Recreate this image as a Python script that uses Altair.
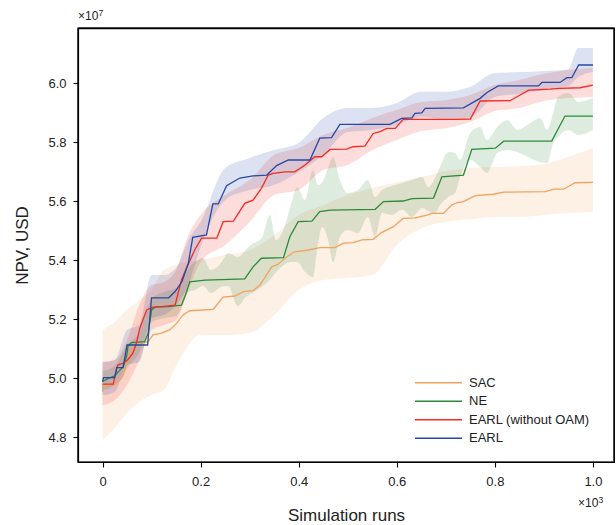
import altair as alt
import pandas as pd

FONT = "Liberation Sans"

names = ["SAC", "NE", "EARL (without OAM)", "EARL"]
colors = ["#f0a35e", "#2a8a3a", "#f52a20", "#2548a8"]

# ---- mean curves (x in 10^3 runs, y in 10^7 USD) ----
sac_x = [0, 0.001, 0.022, 0.039, 0.046, 0.052, 0.062, 0.080, 0.093, 0.103,
         0.120, 0.137, 0.151, 0.164, 0.178, 0.226, 0.246, 0.270, 0.287, 0.307,
         0.321, 0.345, 0.358, 0.376, 0.392, 0.420, 0.443, 0.474, 0.491, 0.511,
         0.529, 0.552, 0.569, 0.593, 0.613, 0.637, 0.664, 0.671, 0.695, 0.712,
         0.722, 0.736, 0.760, 0.797, 0.818, 0.903, 0.920, 0.940, 0.964, 1.000]
sac_y = [4.954, 4.976, 4.976, 4.999, 5.027, 5.061, 5.106, 5.118, 5.123, 5.146,
         5.152, 5.163, 5.185, 5.214, 5.228, 5.233, 5.274, 5.278, 5.293, 5.296,
         5.315, 5.377, 5.386, 5.411, 5.428, 5.434, 5.442, 5.442, 5.457, 5.459,
         5.468, 5.470, 5.493, 5.513, 5.541, 5.543, 5.553, 5.558, 5.558, 5.586,
         5.594, 5.598, 5.618, 5.623, 5.630, 5.632, 5.640, 5.640, 5.662, 5.663]

ne_x = [0, 0.012, 0.025, 0.032, 0.042, 0.049, 0.052, 0.059, 0.086, 0.093,
        0.100, 0.107, 0.134, 0.161, 0.168, 0.178, 0.209, 0.290, 0.307, 0.324,
        0.369, 0.382, 0.399, 0.427, 0.443, 0.464, 0.556, 0.573, 0.613, 0.631,
        0.675, 0.692, 0.736, 0.753, 0.801, 0.818, 0.916, 0.943, 1.000]
ne_y = [4.988, 4.999, 5.007, 5.021, 5.038, 5.072, 5.108, 5.120, 5.123, 5.152,
        5.231, 5.240, 5.242, 5.247, 5.276, 5.326, 5.332, 5.336, 5.377, 5.406,
        5.408, 5.479, 5.530, 5.532, 5.564, 5.569, 5.572, 5.598, 5.600, 5.608,
        5.610, 5.682, 5.688, 5.775, 5.779, 5.803, 5.803, 5.888, 5.888]

earl_wo_x = [0, 0.022, 0.024, 0.031, 0.042, 0.052, 0.062, 0.069, 0.076, 0.090,
             0.103, 0.120, 0.148, 0.154, 0.161, 0.171, 0.188, 0.202, 0.233, 0.246,
             0.267, 0.290, 0.307, 0.324, 0.338, 0.348, 0.372, 0.392, 0.413, 0.433,
             0.447, 0.464, 0.498, 0.511, 0.535, 0.552, 0.566, 0.580, 0.597, 0.613,
             0.719, 0.750, 0.770, 0.831, 0.869, 0.913, 0.933, 0.974, 1.000]
earl_wo_y = [4.979, 4.979, 4.999, 5.044, 5.050, 5.063, 5.084, 5.118, 5.168, 5.231,
             5.240, 5.242, 5.247, 5.287, 5.332, 5.372, 5.434, 5.474, 5.474, 5.530,
             5.532, 5.592, 5.603, 5.643, 5.688, 5.694, 5.699, 5.699, 5.722, 5.750,
             5.750, 5.775, 5.776, 5.784, 5.786, 5.829, 5.835, 5.846, 5.846, 5.877,
             5.877, 5.878, 5.939, 5.940, 5.976, 5.979, 5.982, 5.984, 5.993]

earl_x = [0, 0.002, 0.025, 0.029, 0.042, 0.050, 0.092, 0.100, 0.135, 0.148,
          0.162, 0.175, 0.184, 0.212, 0.225, 0.236, 0.253, 0.280, 0.307, 0.335,
          0.355, 0.379, 0.423, 0.443, 0.467, 0.484, 0.586, 0.610, 0.631, 0.637,
          0.651, 0.658, 0.736, 0.770, 0.784, 0.807, 0.889, 0.896, 0.933, 0.947,
          0.957, 0.971, 1.000]
earl_y = [4.988, 5.001, 5.001, 5.035, 5.035, 5.112, 5.112, 5.272, 5.272, 5.293,
          5.327, 5.389, 5.477, 5.485, 5.590, 5.590, 5.652, 5.678, 5.685, 5.688,
          5.720, 5.739, 5.739, 5.813, 5.815, 5.860, 5.860, 5.880, 5.882, 5.897,
          5.899, 5.914, 5.916, 5.948, 5.968, 5.990, 5.990, 6.002, 6.002, 6.018,
          6.018, 6.061, 6.061]

# ---- shaded bands ----
band_x = [0, 0.025, 0.05, 0.075, 0.1, 0.125, 0.15, 0.175, 0.2, 0.25, 0.3, 0.35,
          0.4, 0.45, 0.5, 0.55, 0.6, 0.65, 0.7, 0.75, 0.8, 0.85, 0.9, 0.95, 1.0]
sac_hi = [5.163, 5.190, 5.231, 5.264, 5.298, 5.366, 5.383, 5.393, 5.400, 5.417,
          5.434, 5.485, 5.553, 5.586, 5.620, 5.644, 5.664, 5.681, 5.702, 5.712,
          5.715, 5.719, 5.725, 5.749, 5.780]
sac_lo = [4.790, 4.830, 4.881, 4.919, 4.942, 4.959, 5.041, 5.112, 5.146, 5.146,
          5.153, 5.214, 5.298, 5.332, 5.339, 5.349, 5.451, 5.508, 5.529, 5.539,
          5.546, 5.546, 5.553, 5.559, 5.563]
earl_wo_hi = [5.054, 5.061, 5.129, 5.247, 5.315, 5.325, 5.366, 5.485, 5.553, 5.620,
              5.671, 5.756, 5.780, 5.824, 5.848, 5.881, 5.909, 5.936, 5.942, 5.959,
              5.993, 6.010, 6.031, 6.044, 6.051]
earl_wo_lo = [4.908, 4.925, 4.976, 5.061, 5.163, 5.180, 5.197, 5.298, 5.393, 5.451,
              5.529, 5.620, 5.637, 5.705, 5.722, 5.773, 5.807, 5.837, 5.847, 5.868,
              5.905, 5.915, 5.939, 5.949, 5.953]

earl_band_x = [0, 0.025, 0.05, 0.075, 0.1, 0.125, 0.15, 0.175, 0.2, 0.25, 0.3, 0.35,
               0.4, 0.45, 0.5, 0.55, 0.6, 0.65, 0.7, 0.75, 0.8, 0.85, 0.9, 0.95, 0.97, 1.0]
earl_hi = [5.054, 5.061, 5.163, 5.180, 5.349, 5.349, 5.373, 5.468, 5.529, 5.712,
           5.746, 5.773, 5.797, 5.881, 5.915, 5.915, 5.932, 5.970, 5.970, 5.987,
           6.034, 6.037, 6.041, 6.047, 6.119, 6.119]
earl_lo = [4.942, 4.953, 5.044, 5.054, 5.203, 5.214, 5.247, 5.315, 5.444, 5.603,
           5.637, 5.654, 5.698, 5.756, 5.834, 5.841, 5.858, 5.885, 5.878, 5.885,
           5.953, 5.963, 5.976, 5.990, 6.020, 6.037]

ne_band_x = [0, 0.025, 0.050, 0.076, 0.101, 0.125, 0.150, 0.176, 0.188, 0.205,
             0.221, 0.243, 0.256, 0.276, 0.292, 0.305, 0.325, 0.341, 0.354, 0.370,
             0.384, 0.397, 0.413, 0.429, 0.439, 0.448, 0.460, 0.470, 0.484, 0.499,
             0.521, 0.541, 0.556, 0.570, 0.590, 0.611, 0.631, 0.652, 0.664, 0.678,
             0.688, 0.705, 0.719, 0.729, 0.750, 0.770, 0.784, 0.805, 0.825, 0.846,
             0.872, 0.892, 0.907, 0.919, 0.929, 0.950, 0.970, 1.000]
ne_hi = [5.024, 5.041, 5.112, 5.156, 5.271, 5.292, 5.305, 5.373, 5.393, 5.407,
         5.366, 5.393, 5.424, 5.410, 5.434, 5.454, 5.475, 5.553, 5.468, 5.508,
         5.586, 5.647, 5.603, 5.705, 5.654, 5.664, 5.712, 5.749, 5.671, 5.627,
         5.637, 5.671, 5.614, 5.637, 5.651, 5.661, 5.671, 5.681, 5.647, 5.678,
         5.715, 5.766, 5.763, 5.739, 5.831, 5.851, 5.807, 5.851, 5.875, 5.841,
         5.864, 5.881, 5.841, 5.898, 5.953, 5.966, 5.936, 5.949]
ne_lo = [4.959, 4.976, 5.034, 5.088, 5.190, 5.203, 5.210, 5.292, 5.298, 5.312,
         5.288, 5.309, 5.312, 5.244, 5.275, 5.288, 5.309, 5.332, 5.359, 5.383,
         5.393, 5.393, 5.359, 5.342, 5.451, 5.512, 5.468, 5.393, 5.478, 5.502,
         5.492, 5.546, 5.478, 5.559, 5.553, 5.570, 5.546, 5.576, 5.566, 5.559,
         5.586, 5.614, 5.627, 5.681, 5.739, 5.715, 5.695, 5.763, 5.773, 5.766,
         5.746, 5.732, 5.729, 5.797, 5.817, 5.841, 5.824, 5.841]

x_ticks = [0, 0.2, 0.4, 0.6, 0.8, 1.0]
y_ticks = [4.8, 5.0, 5.2, 5.4, 5.6, 5.8, 6.0]

series = [
    ("SAC", sac_x, sac_y, band_x, sac_lo, sac_hi),
    ("NE", ne_x, ne_y, ne_band_x, ne_lo, ne_hi),
    ("EARL (without OAM)", earl_wo_x, earl_wo_y, band_x, earl_wo_lo, earl_wo_hi),
    ("EARL", earl_x, earl_y, earl_band_x, earl_lo, earl_hi),
]

W, H = 536, 434

x_scale = alt.Scale(domain=[-0.05, 1.043], nice=False, zero=False)
y_scale = alt.Scale(domain=[4.7153, 6.1865], nice=False, zero=False)
color_scale = alt.Scale(domain=names, range=colors)

x_axis = alt.Axis(values=x_ticks, labelExpr="datum.value == 0 ? '0' : format(datum.value, '.1f')",
                  title="Simulation runs", grid=False, tickSize=5, labelPadding=8,
                  titlePadding=19)
y_axis = alt.Axis(values=y_ticks, format=".1f", title="NPV, USD", grid=False,
                  tickSize=5, labelPadding=7, titlePadding=16)
x_axis_top = alt.Axis(orient="top", labels=False, ticks=False, title="", grid=False,
                      domain=True, domainColor="black", domainWidth=1.3)

areas = []
lines = []
for name, lx, ly, bx, lo, hi in series:
    bdf = pd.DataFrame({"x": bx, "lo": lo, "hi": hi, "series": name})
    ldf = pd.DataFrame({"x": lx, "y": ly, "series": name})
    areas.append(
        alt.Chart(bdf).mark_area(opacity=0.16, interpolate="monotone").encode(
            x=alt.X("x:Q", scale=x_scale, axis=x_axis),
            y=alt.Y("lo:Q", scale=y_scale, axis=y_axis),
            y2="hi:Q",
            color=alt.Color("series:N", scale=color_scale, legend=None),
        )
    )
    lines.append(
        alt.Chart(ldf).mark_line(strokeWidth=1.3).encode(
            x=alt.X("x:Q", scale=x_scale, axis=x_axis),
            y=alt.Y("y:Q", scale=y_scale, axis=y_axis),
            color=alt.Color("series:N", scale=color_scale, legend=None),
        )
    )

main = alt.layer(*areas, *lines)

leg_df = pd.DataFrame({"series": names})
leg_y = alt.Y("series:N", scale=alt.Scale(type="point", domain=names, range=[354.7, 410.3], padding=0),
              axis=None)
leg_rules = alt.Chart(leg_df).mark_rule(strokeWidth=1.5).encode(
    x=alt.value(337), x2=alt.value(384), y=leg_y,
    color=alt.Color("series:N", scale=color_scale, legend=None),
)
leg_text = alt.Chart(leg_df).mark_text(align="left", baseline="middle", fontSize=13,
                                       font=FONT, color="#222222").encode(
    x=alt.value(391), y=leg_y, text="series:N",
)
legend = alt.layer(leg_rules, leg_text)

one = pd.DataFrame({"k": [0]})
# top spine: an independent x axis (same domain) drawn on top, no ticks/labels
top_axis_layer = alt.Chart(one).mark_point(opacity=0).encode(
    x=alt.X("k:Q", scale=x_scale, axis=x_axis_top),
    y=alt.value(200),
)
frame = alt.Chart(one).mark_rect(fillOpacity=0, stroke="black", strokeWidth=1.2).encode(
    x=alt.value(0), x2=alt.value(W), y=alt.value(0), y2=alt.value(H))
mult_y = alt.Chart(one).mark_text(text="×10", align="left", baseline="alphabetic",
                                  fontSize=12, font=FONT, color="#222222").encode(
    x=alt.value(0), y=alt.value(-8.5))
mult_y_exp = alt.Chart(one).mark_text(text="7", align="left", baseline="alphabetic",
                                      fontSize=8.5, font=FONT, color="#222222").encode(
    x=alt.value(20.5), y=alt.value(-12.5))
mult_x = alt.Chart(one).mark_text(text="×10", align="left", baseline="alphabetic",
                                  fontSize=12, font=FONT, color="#222222").encode(
    x=alt.value(500), y=alt.value(479))
mult_x_exp = alt.Chart(one).mark_text(text="3", align="left", baseline="alphabetic",
                                      fontSize=8.5, font=FONT, color="#222222").encode(
    x=alt.value(520.5), y=alt.value(475))
annot = alt.layer(frame, mult_y, mult_y_exp, mult_x, mult_x_exp)

chart = alt.layer(main, legend, annot, top_axis_layer).resolve_scale(
    y="independent", x="independent"
).properties(
    width=W, height=H,
    autosize=alt.AutoSizeParams(type="none"),
    padding={"left": 78, "top": 28, "right": 2, "bottom": 63},
).configure_view(
    stroke="black", strokeWidth=1.2
).configure_axis(
    labelFont=FONT, titleFont=FONT, labelFontSize=13, titleFontSize=17,
    titleFontWeight="normal", labelColor="#222222", titleColor="#222222",
    domainColor="black", domainWidth=1.2, tickColor="black", tickWidth=1.1,
)

chart.save("out.html", embed_options={"renderer": "svg", "actions": False})
